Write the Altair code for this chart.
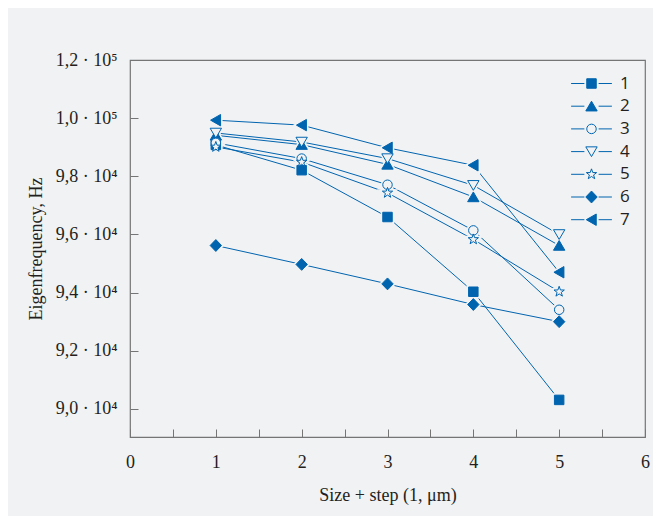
import altair as alt
import pandas as pd

# ---- data ----
sizes = [1, 2, 3, 4, 5]
series_names = ["1", "2", "3", "4", "5", "6", "7"]
s1 = [99080, 98210, 96600, 94030, 90310]
s2 = [99410, 99090, 98410, 97290, 95620]
s3 = [99150, 98610, 97710, 96140, 93410]
s4 = [99490, 99180, 98610, 97690, 96000]
s5 = [99010, 98490, 97430, 95830, 94030]
s6 = [95620, 94970, 94300, 93590, 93000]
s7 = [99930, 99760, 98980, 98380, 94700]
all_series = [s1, s2, s3, s4, s5, s6, s7]

x_tick_values = [0, 0.5, 1, 1.5, 2, 2.5, 3, 3.5, 4, 4.5, 5, 5.5, 6]
y_tick_values = list(range(90000, 102001, 1000))
y_label_values = [90000, 92000, 94000, 96000, 98000, 100000, 102000]
y_label_texts = ["9,0 · 10⁴", "9,2 · 10⁴", "9,4 · 10⁴",
                 "9,6 · 10⁴", "9,8 · 10⁴", "1,0 · 10⁵",
                 "1,2 · 10⁵"]

rows = []
for name, vals in zip(series_names, all_series):
    for xv, yv in zip(sizes, vals):
        rows.append({"series": name, "size": xv, "freq": yv})
df = pd.DataFrame(rows)

BLUE = "#0064AF"
BG = "#F1F2F4"
TXT = "#231F20"
GRID = "#757575"

# marker paths in unit box
marker_paths = [
    "M-1,-1H1V1H-1Z",                                   # square
    "M0,-1.05L1.2,1L-1.2,1Z",                           # triangle up
    "M1,0A1,1 0 1,1 -1,0A1,1 0 1,1 1,0Z",               # circle
    "M0,1.05L1.2,-1L-1.2,-1Z",                          # triangle down
    "M0,-1.15L0.27,-0.37L1.09,-0.36L0.44,0.14L0.68,0.93L0,0.46L-0.68,0.93L-0.44,0.14L-1.09,-0.36L-0.27,-0.37Z",  # star
    "M-1.2,0L0,-1.25L1.2,0L0,1.25Z",                    # diamond
    "M-1.1,0L1,-1.2L1,1.2Z",                            # triangle left
]
legend_paths = ["M-4.3,0H-1.5M1.5,0H4.3" + p for p in marker_paths]
fill_range = [BLUE, BLUE, BG, BG, BG, BLUE, BLUE]
stroke_range = [BLUE] * 7

label_expr = "".join(f"datum.value == {v} ? '{t}' : " for v, t in zip(y_label_values, y_label_texts)) + "''"

x_enc = alt.X("size:Q", scale=alt.Scale(domain=[0, 6], nice=False, zero=False),
              axis=alt.Axis(values=x_tick_values, title="Size + step (1, μm)",
                            labelExpr="datum.value % 1 == 0 ? format(datum.value, 'd') : ''",
                            offset=-8, tickSize=8, domain=False, grid=False,
                            labelPadding=16, labelFlush=False, labelOverlap=False,
                            titlePadding=15))
y_enc = alt.Y("freq:Q", scale=alt.Scale(domain=[89034, 102000], nice=False, zero=False),
              axis=alt.Axis(values=y_tick_values, title="Eigenfrequency, Hz",
                            labelExpr=label_expr, offset=-8, tickSize=8, domain=False,
                            grid=False, labelPadding=13, labelOverlap=False, labelFlush=False,
                            titlePadding=10))

base = alt.Chart(df)

lines = base.mark_line(color=BLUE, strokeWidth=1, opacity=1).encode(
    x=x_enc, y=y_enc, detail="series:N")

halo = base.mark_point(filled=True, fill=BG, stroke=BG, strokeWidth=4, opacity=1, size=90).encode(
    x="size:Q", y="freq:Q",
    shape=alt.Shape("series:N", scale=alt.Scale(domain=series_names, range=marker_paths), legend=None))

points = base.mark_point(stroke=BLUE, strokeWidth=1, opacity=1, size=90).encode(
    x="size:Q", y="freq:Q",
    shape=alt.Shape("series:N", scale=alt.Scale(domain=series_names, range=marker_paths), legend=None),
    fill=alt.Fill("series:N", scale=alt.Scale(domain=series_names, range=fill_range), legend=None))

leg = alt.Legend(title=None, orient="none", legendX=453, legendY=15,
                 symbolStrokeColor=BLUE, symbolStrokeWidth=1, symbolOpacity=1)
legend_layer = base.transform_filter("false").transform_calculate(entry="datum.series").mark_point(
    strokeWidth=1, opacity=1, size=90).encode(
    x="size:Q", y="freq:Q",
    shape=alt.Shape("entry:N", scale=alt.Scale(domain=series_names, range=legend_paths), legend=leg),
    fill=alt.Fill("entry:N", scale=alt.Scale(domain=series_names, range=fill_range), legend=leg),
    stroke=alt.Stroke("entry:N", scale=alt.Scale(domain=series_names, range=stroke_range), legend=leg))

chart = alt.layer(lines, halo, points, legend_layer).resolve_scale(
    shape="independent", fill="independent", stroke="independent"
).properties(
    width=515, height=377,
    autosize=alt.AutoSizeParams(type="none"),
    padding={"left": 122, "top": 52, "right": 8, "bottom": 79},
    background=BG,
).configure_view(
    stroke=GRID, strokeWidth=1.2
).configure_axis(
    labelFont="Liberation Serif", labelFontSize=18, labelColor=TXT,
    titleFont="Liberation Serif", titleFontSize=18, titleColor=TXT, titleFontWeight="normal",
    tickColor=GRID, tickWidth=1
).configure_legend(
    labelFont="Open Sans", labelFontSize=17, labelColor=TXT,
    symbolSize=90, labelOffset=20, rowPadding=4.7, padding=0
)

chart.save("out.html", embed_options={"renderer": "svg", "actions": False})
